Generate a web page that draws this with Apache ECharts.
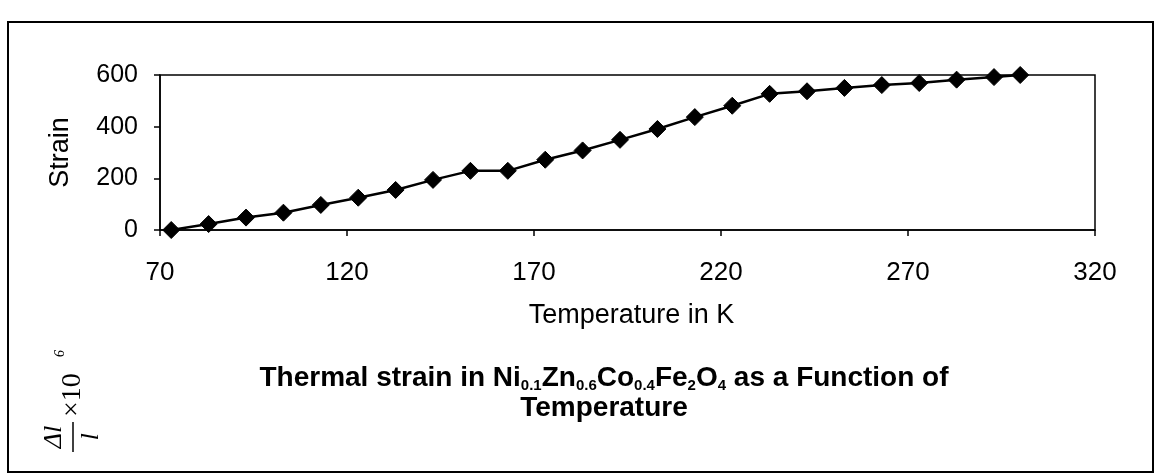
<!DOCTYPE html>
<html>
<head>
<meta charset="utf-8">
<title>Thermal strain vs temperature</title>
<script src="https://cdn.jsdelivr.net/npm/echarts@6/dist/echarts.min.js"></script>
<style>
  html, body { margin: 0; padding: 0; background: #fff; }
  #chart { width: 1156px; height: 476px; }
</style>
</head>
<body>
<div id="chart"></div>
<script>
// Measured temperatures (K) and thermal strain (Δl/l × 10^-6)
const temperatures = [73, 83, 93, 103, 113, 123, 133, 143, 153, 163, 173, 183,
                      193, 203, 213, 223, 233, 243, 253, 263, 273, 283, 293, 300];
const strain = [0, 23, 48, 67, 97, 125, 155, 194, 229, 229, 272, 308,
                349, 391, 437, 481, 527, 537, 550, 561, 569, 582, 592, 600];

// Axis tick values
const xTicks = [70, 120, 170, 220, 270, 320];
const yTicks = [0, 200, 400, 600];

const points = temperatures.map((t, i) => [t, strain[i]]);

const chart = echarts.init(document.getElementById('chart'), null, { renderer: 'canvas' });

const tickFont = 'Liberation Sans';

chart.setOption({
  backgroundColor: '#ffffff',
  animation: false,
  title: {
    left: 599,
    top: 358,
    textAlign: 'center',
    text: '{b|Thermal strain in Ni}{s|0.1}{b|Zn}{s|0.6}{b|Co}{s|0.4}{b|Fe}{s|2}{b|O}{s|4}{b| as a Function of}\n{b|Temperature}',
    textStyle: {
      rich: {
        b: { fontFamily: tickFont, fontWeight: 'bold', fontSize: 28, lineHeight: 30, color: '#000' },
        s: { fontFamily: tickFont, fontWeight: 'bold', fontSize: 15, lineHeight: 30, verticalAlign: 'bottom', color: '#000' }
      }
    }
  },
  grid: {
    left: 160,
    right: 61,
    top: 75,
    bottom: 246,
    show: true,
    borderColor: '#000',
    borderWidth: 1.5,
    backgroundColor: '#fff'
  },
  xAxis: {
    type: 'value',
    min: xTicks[0],
    max: xTicks[xTicks.length - 1],
    interval: xTicks[1] - xTicks[0],
    name: 'Temperature in K',
    nameLocation: 'middle',
    nameGap: 72,
    nameTextStyle: { fontFamily: tickFont, fontSize: 27, color: '#000', padding: [0, 0, 0, 8] },
    axisLine: { show: true, onZero: false, lineStyle: { color: '#000', width: 1.5 } },
    axisTick: { show: true, inside: false, length: 6, lineStyle: { color: '#000', width: 1.5 } },
    axisLabel: { margin: 30, fontFamily: tickFont, fontSize: 26, color: '#000' },
    splitLine: { show: false }
  },
  yAxis: {
    type: 'value',
    min: yTicks[0],
    max: yTicks[yTicks.length - 1],
    interval: yTicks[1] - yTicks[0],
    name: 'Strain',
    nameLocation: 'middle',
    nameGap: 86,
    nameRotate: 90,
    nameTextStyle: { fontFamily: tickFont, fontSize: 27, color: '#000' },
    axisLine: { show: true, lineStyle: { color: '#000', width: 1.5 } },
    axisTick: { show: true, inside: false, length: 6, lineStyle: { color: '#000', width: 1.5 } },
    axisLabel: { margin: 22, fontFamily: tickFont, fontSize: 25, color: '#000' },
    splitLine: { show: false }
  },
  series: [{
    type: 'line',
    data: points,
    symbol: 'diamond',
    symbolSize: 17,
    showSymbol: true,
    lineStyle: { color: '#000', width: 2.5 },
    itemStyle: { color: '#000', borderColor: '#000' },
    silent: true
  }],
  graphic: [
    {
      // outer frame around the figure
      type: 'rect',
      silent: true,
      shape: { x: 8, y: 22, width: 1145, height: 450 },
      style: { fill: 'none', stroke: '#000', lineWidth: 2 }
    },
    {
      // Δl/l × 10^6 quantity label, written bottom-to-top
      type: 'group',
      x: 73,
      y: 452,
      rotation: Math.PI / 2,
      silent: true,
      children: [
        { type: 'line', shape: { x1: 0, y1: 0, x2: 30, y2: 0 }, style: { stroke: '#000', lineWidth: 1.5 } },
        { type: 'text', x: 15, y: -6,
          style: { text: 'Δl', font: 'italic 26px "Liberation Serif"', fill: '#000',
                   textAlign: 'center', textVerticalAlign: 'bottom', verticalAlign: 'bottom' } },
        { type: 'text', x: 15, y: 5,
          style: { text: 'l', font: 'italic 26px "Liberation Serif"', fill: '#000',
                   textAlign: 'center', textVerticalAlign: 'top', verticalAlign: 'top' } },
        { type: 'text', x: 35, y: 0,
          style: { text: '×10', font: '28px "Liberation Serif"', fill: '#000',
                   textAlign: 'left', textVerticalAlign: 'middle', verticalAlign: 'middle' } },
        { type: 'text', x: 95, y: -13,
          style: { text: '6', font: 'italic 14px "Liberation Serif"', fill: '#000',
                   textAlign: 'left', textVerticalAlign: 'middle', verticalAlign: 'middle' } }
      ]
    }
  ]
});
</script>
</body>
</html>
